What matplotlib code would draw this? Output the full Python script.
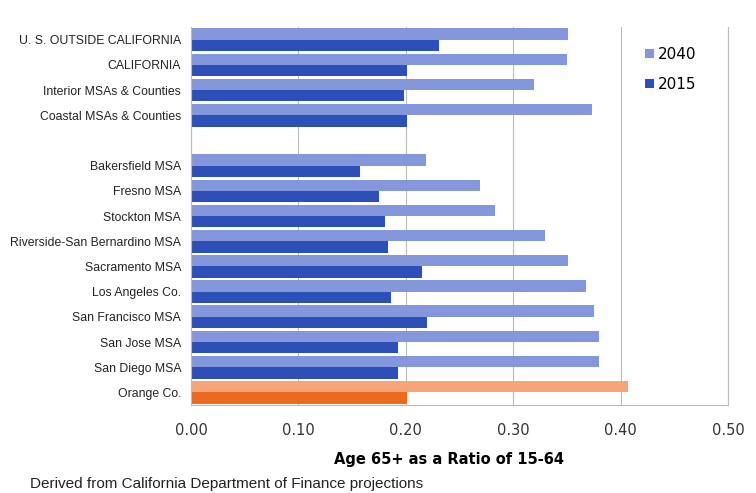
import numpy as np
import matplotlib.pyplot as plt

regions = ["U. S. OUTSIDE CALIFORNIA", "CALIFORNIA", "Interior MSAs & Counties",
           "Coastal MSAs & Counties", "", "Bakersfield MSA", "Fresno MSA",
           "Stockton MSA", "Riverside-San Bernardino MSA", "Sacramento MSA",
           "Los Angeles Co.", "San Francisco MSA", "San Jose MSA",
           "San Diego MSA", "Orange Co."]
ratio_2040 = [0.351, 0.350, 0.319, 0.373, np.nan, 0.219, 0.269, 0.283, 0.330,
              0.351, 0.368, 0.375, 0.380, 0.380, 0.407]
ratio_2015 = [0.231, 0.201, 0.198, 0.201, np.nan, 0.157, 0.175, 0.181, 0.183,
              0.215, 0.186, 0.220, 0.193, 0.193, 0.201]
xticks = [0.0, 0.1, 0.2, 0.3, 0.4, 0.5]

c40 = ["#8497dd"] * 14 + ["#f6a57a"]
c15 = ["#2c4fb8"] * 14 + ["#ec6a1c"]

fig = plt.figure(figsize=(7.56, 4.93), dpi=100)
ax = fig.add_axes([0.2526, 0.1785, 0.7104, 0.7665])

y = np.arange(len(regions))
h = 0.45
ax.barh(y - h / 2, ratio_2040, height=h, color=c40, label="2040")
ax.barh(y + h / 2, ratio_2015, height=h, color=c15, label="2015")

ax.set_ylim(len(regions) - 0.5, -0.5)
ax.set_xlim(0, 0.5)
ax.set_xticks(xticks)
ax.set_xticklabels([f"{v:.2f}" for v in xticks], fontsize=10.5, color="#333333")
ax.set_yticks(y)
ax.set_yticklabels(regions, fontsize=8.8, color="#222222",
                   family=["Liberation Sans Narrow", "Liberation Sans", "DejaVu Sans"])
ax.tick_params(length=0, pad=7)
ax.tick_params(axis="x", pad=13)

ax.grid(axis="x", color="#bbbbbb", lw=0.8)
ax.set_axisbelow(True)
ax.spines["top"].set_visible(False)
for s in ["left", "bottom", "right"]:
    ax.spines[s].set_color("#bbbbbb")

ax.set_xlabel("Age 65+ as a Ratio of 15-64", fontsize=10.5, fontweight="bold")
ax.xaxis.set_label_coords(0.48, -0.125)

leg = ax.legend(loc="upper left", bbox_to_anchor=(0.82, 0.985), frameon=False,
                fontsize=11, handlelength=0.55, handleheight=0.55, handletextpad=0.3,
                labelspacing=1.0)

fig.text(0.04, 0.01, "Derived from California Department of Finance projections",
         fontsize=11, color="#222222",
         family=["Liberation Sans Narrow", "Liberation Sans", "DejaVu Sans"])

fig.savefig("out.png", dpi=100)
